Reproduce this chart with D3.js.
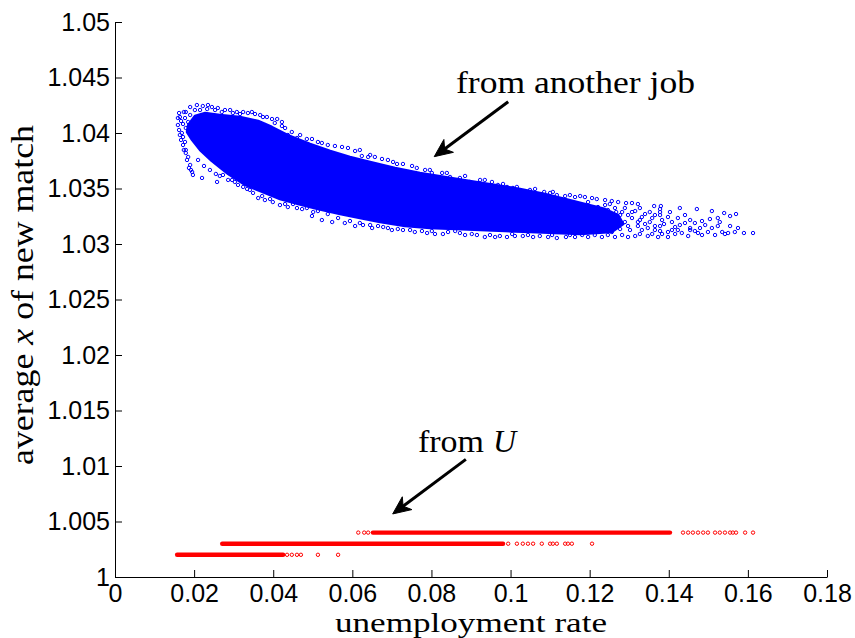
<!DOCTYPE html>
<html>
<head>
<meta charset="utf-8">
<script src="https://cdnjs.cloudflare.com/ajax/libs/d3/7.8.5/d3.min.js"></script>
<style>
  html, body { margin: 0; padding: 0; background: #fff; }
  svg { display: block; }
</style>
</head>
<body>
<div id="chart"></div>
<script>
// ---- axis ticks ----
const xTicks = [0, 0.02, 0.04, 0.06, 0.08, 0.1, 0.12, 0.14, 0.16, 0.18];
const xTickLabels = ["0", "0.02", "0.04", "0.06", "0.08", "0.1", "0.12", "0.14", "0.16", "0.18"];
const yTicks = [1, 1.005, 1.01, 1.015, 1.02, 1.025, 1.03, 1.035, 1.04, 1.045, 1.05];
const yTickLabels = ["1", "1.005", "1.01", "1.015", "1.02", "1.025", "1.03", "1.035", "1.04", "1.045", "1.05"];

// ---- hires from unemployment: three levels of average x ----
const uLevels = [1.002, 1.003, 1.004];
// unemployment ranges that are densely covered at each level
const uDenseRuns = [[0.0157, 0.0425], [0.0271, 0.0981], [0.0652, 0.1403]];
// isolated observations at each level
const uSparse1002 = [0.0435, 0.0447, 0.0460, 0.0470, 0.0513, 0.0564];
const uSparse1003 = [0.0994, 0.1016, 0.1031, 0.1044, 0.1057, 0.1079, 0.1100, 0.1107, 0.1117, 0.1138, 0.1145, 0.1155, 0.1206];
const uSparse1004 = [0.0615, 0.0630, 0.0640, 0.1436, 0.1449, 0.1461, 0.1474, 0.1487, 0.1499, 0.1517, 0.1529, 0.1542, 0.1555, 0.1562, 0.1570, 0.1593, 0.1613];

// ---- hires from another job ----
// outline of the densely packed core of the cloud (upper edge left->right, lower edge right->left)
const jobCoreUpper = [
  [0.0185, 1.04072], [0.0202, 1.04153], [0.0228, 1.04180], [0.0265, 1.04162], [0.0316, 1.04144],
  [0.0362, 1.04108], [0.0397, 1.04054], [0.0442, 1.03973], [0.0493, 1.03901], [0.0544, 1.03838],
  [0.0594, 1.03784], [0.0645, 1.03739], [0.0708, 1.03685], [0.0771, 1.03640], [0.0834, 1.03604],
  [0.0897, 1.03568], [0.0961, 1.03532], [0.1024, 1.03496], [0.1087, 1.03451], [0.1138, 1.03405],
  [0.1188, 1.03360], [0.1239, 1.03315], [0.1272, 1.03261], [0.1285, 1.03180]
];
const jobCoreLower = [
  [0.1256, 1.03108], [0.1176, 1.03090], [0.1112, 1.03099], [0.1049, 1.03108], [0.0986, 1.03117],
  [0.0923, 1.03126], [0.0860, 1.03135], [0.0796, 1.03144], [0.0733, 1.03162], [0.0670, 1.03198],
  [0.0619, 1.03234], [0.0569, 1.03270], [0.0513, 1.03315], [0.0463, 1.03360], [0.0417, 1.03405],
  [0.0372, 1.03469], [0.0329, 1.03532], [0.0286, 1.03631], [0.0245, 1.03748], [0.0215, 1.03847],
  [0.0195, 1.03937], [0.0182, 1.04009]
];
// individual observations around the core
const jobPoints = [
  // left hook
  [0.0164, 1.04144], [0.0159, 1.04072], [0.0169, 1.04000], [0.0177, 1.03919], [0.0185, 1.03784],
  [0.0190, 1.03712], [0.0195, 1.03649], [0.0197, 1.03622], [0.0220, 1.03595], [0.0258, 1.03559],
  [0.0167, 1.04108], [0.0172, 1.03964], [0.0179, 1.03847],
  [0.0162, 1.04180], [0.0159, 1.04135], [0.0162, 1.04027], [0.0164, 1.03982], [0.0167, 1.03937],
  [0.0172, 1.03892], [0.0174, 1.03847], [0.0179, 1.03820], [0.0182, 1.03757], [0.0187, 1.03685],
  [0.0192, 1.03667], [0.0179, 1.04045], [0.0185, 1.04099], [0.0177, 1.04135], [0.0172, 1.04081],
  [0.0190, 1.04162], [0.0179, 1.04189],
  // upper rim
  [0.0174, 1.04189], [0.0190, 1.04234], [0.0207, 1.04252], [0.0222, 1.04243], [0.0235, 1.04252],
  [0.0245, 1.04234], [0.0260, 1.04225], [0.0278, 1.04207], [0.0291, 1.04207], [0.0308, 1.04189],
  [0.0324, 1.04189], [0.0336, 1.04180], [0.0346, 1.04189], [0.0367, 1.04162], [0.0384, 1.04144],
  [0.0410, 1.04126], [0.0422, 1.04099], [0.0422, 1.04063], [0.0437, 1.03982], [0.0460, 1.03955],
  [0.0485, 1.03946], [0.0513, 1.03919], [0.0538, 1.03892], [0.0574, 1.03874], [0.0589, 1.03865],
  [0.0619, 1.03847], [0.0624, 1.03793], [0.0640, 1.03784], [0.0657, 1.03784], [0.0675, 1.03766],
  [0.0703, 1.03739], [0.0713, 1.03721], [0.0741, 1.03649], [0.0763, 1.03685], [0.0784, 1.03667],
  [0.0801, 1.03640], [0.0827, 1.03640], [0.0847, 1.03604], [0.0872, 1.03595], [0.0897, 1.03559],
  [0.0918, 1.03550], [0.0935, 1.03577], [0.0968, 1.03532], [0.0991, 1.03514], [0.1006, 1.03505],
  [0.1029, 1.03469], [0.1049, 1.03487], [0.1085, 1.03469], [0.1100, 1.03460], [0.1117, 1.03441],
  [0.1138, 1.03432], [0.1163, 1.03423], [0.1188, 1.03423], [0.1218, 1.03405], [0.1256, 1.03387],
  [0.1292, 1.03369], [0.1322, 1.03360], [0.1363, 1.03342], [0.1380, 1.03342], [0.1428, 1.03324],
  [0.1471, 1.03315], [0.1509, 1.03297], [0.1540, 1.03279], [0.1555, 1.03252], [0.1570, 1.03270],
  [0.0202, 1.04207], [0.0215, 1.04207], [0.0233, 1.04216], [0.0253, 1.04207], [0.0270, 1.04189],
  [0.0298, 1.04180], [0.0316, 1.04171], [0.0354, 1.04171], [0.0374, 1.04144], [0.0397, 1.04126],
  [0.0404, 1.04090], [0.0430, 1.04045], [0.0447, 1.04009], [0.0468, 1.03982], [0.0498, 1.03946],
  [0.0523, 1.03910], [0.0556, 1.03883], [0.0607, 1.03838], [0.0645, 1.03802], [0.0690, 1.03757],
  [0.0728, 1.03721], [0.0751, 1.03703], [0.0796, 1.03667], [0.0839, 1.03640], [0.0885, 1.03613],
  [0.0923, 1.03577], [0.0953, 1.03559], [0.0981, 1.03541], [0.1016, 1.03514], [0.1062, 1.03496],
  [0.1107, 1.03469], [0.1150, 1.03441], [0.1176, 1.03432], [0.1206, 1.03414], [0.1239, 1.03396],
  [0.1272, 1.03378], [0.1307, 1.03369],
  // lower rim
  [0.0273, 1.03622], [0.0296, 1.03577], [0.0311, 1.03532], [0.0341, 1.03487], [0.0349, 1.03460],
  [0.0362, 1.03414], [0.0379, 1.03396], [0.0399, 1.03378], [0.0417, 1.03351], [0.0437, 1.03333],
  [0.0460, 1.03324], [0.0473, 1.03315], [0.0498, 1.03252], [0.0501, 1.03288], [0.0523, 1.03216],
  [0.0549, 1.03198], [0.0581, 1.03189], [0.0607, 1.03162], [0.0627, 1.03171], [0.0650, 1.03144],
  [0.0678, 1.03153], [0.0700, 1.03126], [0.0728, 1.03126], [0.0758, 1.03108], [0.0789, 1.03099],
  [0.0809, 1.03090], [0.0829, 1.03090], [0.0860, 1.03117], [0.0885, 1.03081], [0.0915, 1.03081],
  [0.0935, 1.03063], [0.0961, 1.03063], [0.0991, 1.03063], [0.1011, 1.03072], [0.1031, 1.03072],
  [0.1057, 1.03063], [0.1074, 1.03072], [0.1095, 1.03063], [0.1117, 1.03054], [0.1140, 1.03063],
  [0.1163, 1.03063], [0.1196, 1.03063], [0.1231, 1.03063], [0.1264, 1.03063], [0.1297, 1.03063],
  [0.1315, 1.03072], [0.1347, 1.03072], [0.1373, 1.03063], [0.1398, 1.03063], [0.1449, 1.03072],
  [0.1484, 1.03081], [0.1517, 1.03081], [0.1542, 1.03090],
  [0.0210, 1.03757], [0.0225, 1.03703], [0.0240, 1.03667], [0.0255, 1.03631], [0.0265, 1.03613],
  [0.0286, 1.03577], [0.0303, 1.03559], [0.0324, 1.03514], [0.0334, 1.03496], [0.0372, 1.03432],
  [0.0392, 1.03405], [0.0430, 1.03360], [0.0450, 1.03360], [0.0485, 1.03324], [0.0513, 1.03297],
  [0.0538, 1.03270], [0.0564, 1.03234], [0.0594, 1.03207], [0.0619, 1.03189], [0.0645, 1.03171],
  [0.0665, 1.03162], [0.0690, 1.03144], [0.0715, 1.03135], [0.0746, 1.03126], [0.0776, 1.03117],
  [0.0801, 1.03117], [0.0842, 1.03108], [0.0872, 1.03099], [0.0902, 1.03090], [0.0948, 1.03081],
  [0.0973, 1.03072], [0.1004, 1.03090], [0.1044, 1.03081], [0.1105, 1.03081], [0.1150, 1.03081],
  [0.1181, 1.03081], [0.1213, 1.03081], [0.1246, 1.03081], [0.1282, 1.03081], [0.1327, 1.03090],
  [0.1358, 1.03090], [0.1383, 1.03090], [0.1416, 1.03090], [0.1433, 1.03099], [0.1466, 1.03117],
  // thinning tail at high unemployment
  [0.1196, 1.03378], [0.1221, 1.03333], [0.1246, 1.03306], [0.1282, 1.03288], [0.1315, 1.03297],
  [0.1332, 1.03243], [0.1358, 1.03234], [0.1383, 1.03216], [0.1408, 1.03198], [0.1441, 1.03189],
  [0.1466, 1.03189], [0.1484, 1.03207], [0.1504, 1.03225], [0.1524, 1.03234], [0.1332, 1.03126],
  [0.1365, 1.03126], [0.1398, 1.03108], [0.1423, 1.03126], [0.1474, 1.03099], [0.1499, 1.03108],
  [0.1535, 1.03108], [0.1550, 1.03099], [0.1567, 1.03108], [0.1590, 1.03099], [0.1613, 1.03099],
  [0.1378, 1.03315], [0.1378, 1.03288], [0.1378, 1.03261],
  [0.1138, 1.03369], [0.1155, 1.03324], [0.1176, 1.03288], [0.1145, 1.03261], [0.1188, 1.03234],
  [0.1163, 1.03198], [0.1206, 1.03180], [0.1239, 1.03216], [0.1264, 1.03162], [0.1289, 1.03198],
  [0.1302, 1.03126], [0.1256, 1.03108], [0.1213, 1.03126], [0.1277, 1.03261], [0.1307, 1.03234],
  [0.1340, 1.03180], [0.1378, 1.03162], [0.1226, 1.03279], [0.1251, 1.03360], [0.1327, 1.03324],
  [0.1352, 1.03288], [0.1277, 1.03135], [0.1322, 1.03162], [0.1416, 1.03153], [0.1454, 1.03144],
  [0.1239, 1.03351], [0.1264, 1.03324], [0.1289, 1.03324], [0.1307, 1.03288], [0.1340, 1.03270],
  [0.1365, 1.03261], [0.1398, 1.03243], [0.1423, 1.03234], [0.1454, 1.03216], [0.1492, 1.03171],
  [0.1509, 1.03144], [0.1454, 1.03126], [0.1408, 1.03126], [0.1378, 1.03117], [0.1347, 1.03144],
  [0.1322, 1.03198], [0.1297, 1.03162], [0.1272, 1.03198], [0.1246, 1.03162], [0.1226, 1.03144],
  [0.1241, 1.03234], [0.1267, 1.03288], [0.1297, 1.03261], [0.1327, 1.03216], [0.1352, 1.03198],
  [0.1388, 1.03180], [0.1428, 1.03171], [0.1479, 1.03144], [0.1524, 1.03162], [0.1555, 1.03162],
  [0.1575, 1.03144], [0.1529, 1.03198], [0.1365, 1.03162], [0.1403, 1.03288], [0.1441, 1.03261]
];

// ---- annotations (data coordinates) ----
const annJobText = { x: 0.0862, y: 1.04360 };
const annJobArrow = { from: [0.0994, 1.04282], to: [0.0807, 1.03787] };
const annUText = { x: 0.0766, y: 1.01126 };
const annUArrow = { from: [0.0887, 1.01060], to: [0.0702, 1.00568] };

// ---- layout ----
const W = 855, H = 638;
const margin = { left: 115, top: 22, right: 28, bottom: 61 };
const x = d3.scaleLinear().domain([0, 0.18]).range([margin.left, W - margin.right]);
const y = d3.scaleLinear().domain([1, 1.05]).range([H - margin.bottom, margin.top]);

const svg = d3.select("#chart").append("svg")
  .attr("width", W).attr("height", H)
  .style("background", "#fff");

const BLUE = "#0000ff", RED = "#ff0000";
const R = 1.7;

// dense core of the on-the-job cloud
const core = jobCoreUpper.concat(jobCoreLower);
svg.append("path")
  .attr("d", d3.line().x(d => x(d[0])).y(d => y(d[1])).curve(d3.curveLinearClosed)(core))
  .attr("fill", BLUE)
  .attr("stroke", BLUE)
  .attr("stroke-width", 2.5)
  .attr("stroke-linejoin", "round");

svg.append("g").selectAll("circle").data(jobPoints).join("circle")
  .attr("cx", d => x(d[0])).attr("cy", d => y(d[1])).attr("r", R)
  .attr("fill", "none").attr("stroke", BLUE).attr("stroke-width", 1);

// hires from unemployment
const gU = svg.append("g");
gU.selectAll("line").data(uDenseRuns).join("line")
  .attr("x1", d => x(d[0])).attr("x2", d => x(d[1]))
  .attr("y1", (d, i) => y(uLevels[i])).attr("y2", (d, i) => y(uLevels[i]))
  .attr("stroke", RED).attr("stroke-width", 4.4).attr("stroke-linecap", "round");
const uSparse = [uSparse1002, uSparse1003, uSparse1004]
  .flatMap((arr, i) => arr.map(v => [v, uLevels[i]]));
gU.selectAll("circle").data(uSparse).join("circle")
  .attr("cx", d => x(d[0])).attr("cy", d => y(d[1])).attr("r", R)
  .attr("fill", "none").attr("stroke", RED).attr("stroke-width", 1);

// axes (ticks pointing inward)
const tickFont = "'Liberation Sans', Arial, Helvetica, sans-serif";
const xAxis = svg.append("g")
  .attr("transform", `translate(0,${H - margin.bottom})`)
  .call(d3.axisBottom(x).tickValues(xTicks).tickFormat((d, i) => xTickLabels[i])
    .tickSizeInner(-7).tickSizeOuter(0).tickPadding(7));
const yAxis = svg.append("g")
  .attr("transform", `translate(${margin.left},0)`)
  .call(d3.axisLeft(y).tickValues(yTicks).tickFormat((d, i) => yTickLabels[i])
    .tickSizeInner(-7).tickSizeOuter(0).tickPadding(5));
[xAxis, yAxis].forEach(g => {
  g.select(".domain").attr("stroke", "#000").attr("stroke-width", 1);
  g.selectAll(".tick line").attr("stroke", "#000").attr("stroke-width", 1);
  g.selectAll(".tick text").attr("fill", "#000")
    .style("font-family", tickFont).style("font-size", "25px");
});

// axis titles and annotations in a serif face
const serif = "'Liberation Serif', 'Times New Roman', serif";
svg.append("text")
  .attr("x", x(0.09)).attr("y", 631.5)
  .attr("text-anchor", "middle")
  .attr("textLength", 272).attr("lengthAdjust", "spacingAndGlyphs")
  .style("font-family", serif).style("font-size", "27px")
  .text("unemployment rate");

const yTitle = svg.append("text")
  .attr("transform", "translate(33,295) rotate(-90)")
  .attr("text-anchor", "middle")
  .attr("textLength", 340).attr("lengthAdjust", "spacingAndGlyphs")
  .style("font-family", serif).style("font-size", "32px");
yTitle.append("tspan").text("average ");
yTitle.append("tspan").style("font-style", "italic").text("x");
yTitle.append("tspan").text(" of new match");

svg.append("text")
  .attr("x", x(annJobText.x)).attr("y", y(annJobText.y))
  .attr("textLength", 239).attr("lengthAdjust", "spacingAndGlyphs")
  .style("font-family", serif).style("font-size", "32px")
  .text("from another job");

svg.append("text")
  .attr("x", x(annUText.x)).attr("y", y(annUText.y))
  .attr("textLength", 66).attr("lengthAdjust", "spacingAndGlyphs")
  .style("font-family", serif).style("font-size", "32px")
  .text("from");
svg.append("text")
  .attr("x", x(annUText.x) + 75).attr("y", y(annUText.y))
  .style("font-family", serif).style("font-size", "32px").style("font-style", "italic")
  .text("U");

// arrows
function arrow(a) {
  const x0 = x(a.from[0]), y0 = y(a.from[1]);
  const x1 = x(a.to[0]), y1 = y(a.to[1]);
  const dx = x1 - x0, dy = y1 - y0, len = Math.hypot(dx, dy);
  const ux = dx / len, uy = dy / len, nx = -uy, ny = ux;
  const L = 18, Wd = 8;
  const g = svg.append("g");
  g.append("line")
    .attr("x1", x0).attr("y1", y0)
    .attr("x2", x1 - ux * 10).attr("y2", y1 - uy * 10)
    .attr("stroke", "#000").attr("stroke-width", 3);
  const pts = [
    [x1, y1],
    [x1 - ux * L + nx * Wd, y1 - uy * L + ny * Wd],
    [x1 - ux * L * 0.72, y1 - uy * L * 0.72],
    [x1 - ux * L - nx * Wd, y1 - uy * L - ny * Wd]
  ];
  g.append("path").attr("d", "M" + pts.map(p => p.join(",")).join("L") + "Z")
    .attr("fill", "#000").attr("stroke", "#000").attr("stroke-width", 1)
    .attr("stroke-linejoin", "miter");
}
arrow(annJobArrow);
arrow(annUArrow);
</script>
</body>
</html>
